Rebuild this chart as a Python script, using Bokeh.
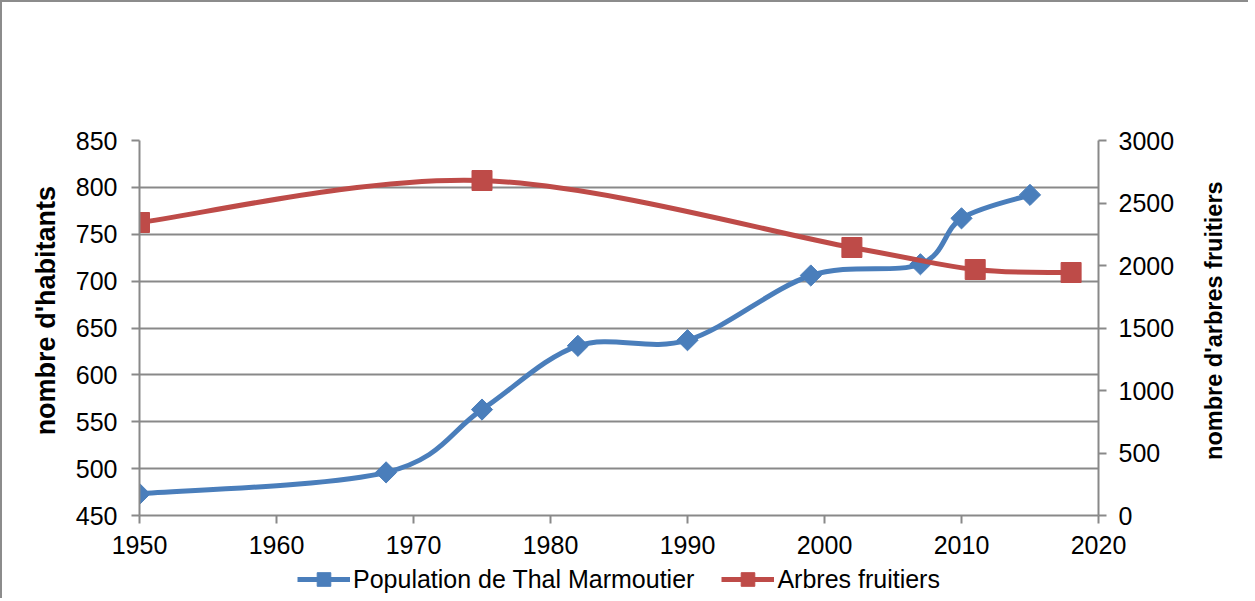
import math
from bokeh.plotting import figure
from bokeh.models import (Range1d, LinearAxis, Legend, LegendItem, FixedTicker,
                          ColumnDataSource, Label)
from bokeh.layouts import column, row
from bokeh.embed import file_html
from bokeh.resources import INLINE

# ---- data ----
pop_years = [1950, 1968, 1975, 1982, 1990, 1999, 2007, 2010, 2015]
pop_values = [473, 496, 563, 631, 637, 706, 718, 767, 792]
tree_years = [1950, 1975, 2002, 2011, 2018]
tree_values = [2344, 2680, 2144, 1968, 1944]
x_ticks = [1950, 1960, 1970, 1980, 1990, 2000, 2010, 2020]
left_ticks = [450, 500, 550, 600, 650, 700, 750, 800, 850]
right_ticks = [0, 500, 1000, 1500, 2000, 2500, 3000]
pop_label = "Population de Thal Marmoutier"
tree_label = "Arbres fruitiers"
left_title = "nombre d'habitants"
right_title = "nombre d'arbres fruitiers"

BLUE = "#4A7EBB"
RED = "#BE4B48"
GRID = "#898989"
BORDER = "2px solid #8c8c8c"
FONT = "Liberation Sans"


def smooth_segments(xs, ys):
    """Catmull-Rom style Bezier control points (Excel-like smoothing)."""
    n = len(xs)
    d = dict(x0=[], y0=[], x1=[], y1=[], cx0=[], cy0=[], cx1=[], cy1=[])
    for i in range(n - 1):
        im1 = max(i - 1, 0)
        ip2 = min(i + 2, n - 1)
        d["x0"].append(xs[i]); d["y0"].append(ys[i])
        d["x1"].append(xs[i + 1]); d["y1"].append(ys[i + 1])
        d["cx0"].append(xs[i] + (xs[i + 1] - xs[im1]) / 6.0)
        d["cy0"].append(ys[i] + (ys[i + 1] - ys[im1]) / 6.0)
        d["cx1"].append(xs[i + 1] - (xs[ip2] - xs[i]) / 6.0)
        d["cy1"].append(ys[i + 1] - (ys[ip2] - ys[i]) / 6.0)
    return ColumnDataSource(d)


pop_src = smooth_segments(pop_years, pop_values)
tree_src = smooth_segments(tree_years, tree_values)


def add_series(fig):
    a = fig.bezier(x0="x0", y0="y0", x1="x1", y1="y1", cx0="cx0", cy0="cy0",
                   cx1="cx1", cy1="cy1", source=pop_src, line_color=BLUE, line_width=5)
    b = fig.scatter(pop_years, pop_values, marker="square", angle=math.pi / 4,
                    size=15, fill_color=BLUE, line_color=BLUE)
    c = fig.bezier(x0="x0", y0="y0", x1="x1", y1="y1", cx0="cx0", cy0="cy0",
                   cx1="cx1", cy1="cy1", source=tree_src, line_color=RED, line_width=5,
                   y_range_name="right")
    d = fig.scatter(tree_years, tree_values, marker="square", size=20,
                    fill_color=RED, line_color=RED, y_range_name="right")
    return a, b, c, d


def blank_fig(w, h, styles):
    f = figure(width=w, height=h, output_backend="svg", toolbar_location=None, title=None,
               x_range=Range1d(0, w), y_range=Range1d(0, h),
               x_axis_type=None, y_axis_type=None, min_border=0)
    f.outline_line_color = None
    f.grid.visible = False
    f.styles = styles
    return f


H = 562
LEFT_W = 60       # + 2px border
MAIN_W = 1128
RIGHT_W = 60

# ---------------- left axis title ----------------
lt = blank_fig(LEFT_W, H, {"border-top": BORDER, "border-left": BORDER})
lt.add_layout(Label(x=43, y=H - 255, text=left_title, angle=math.pi / 2,
                    text_align="center", text_baseline="middle", text_font=FONT,
                    text_font_style="bold", text_font_size="27px", text_color="black"))

# ---------------- main chart ----------------
p = figure(width=MAIN_W, height=H, output_backend="svg", toolbar_location=None, title=None,
           x_range=Range1d(1950, 2020), y_range=Range1d(450, 850),
           min_border_left=141 - 62, min_border_right=MAIN_W - (1100 - 62),
           min_border_top=138, min_border_bottom=H - 513)
p.extra_y_ranges = {"right": Range1d(0, 3000)}
p.outline_line_color = None
p.background_fill_color = "white"
p.border_fill_color = "white"
p.styles = {"border-top": BORDER}

p.xgrid.visible = False
p.ygrid.grid_line_color = GRID
p.ygrid.grid_line_width = 2
p.ygrid.ticker = FixedTicker(ticks=left_ticks)

xa = p.xaxis[0]
xa.ticker = FixedTicker(ticks=x_ticks)
ya = p.yaxis[0]
ya.ticker = FixedTicker(ticks=left_ticks)

ra = LinearAxis(y_range_name="right", ticker=FixedTicker(ticks=right_ticks))
p.add_layout(ra, "right")

for ax in (xa, ya, ra):
    ax.axis_line_color = GRID
    ax.axis_line_width = 2
    ax.major_tick_line_color = GRID
    ax.major_tick_line_width = 2
    ax.major_tick_out = 8
    ax.major_tick_in = 0
    ax.minor_tick_line_color = None
    ax.major_label_text_font = FONT
    ax.major_label_text_font_size = "25px"
    ax.major_label_text_color = "black"

xa.major_label_standoff = 12
ya.major_label_standoff = 14
ra.major_label_standoff = 12

add_series(p)

# ---------------- right axis title ----------------
rt = blank_fig(RIGHT_W, H, {"border-top": BORDER})
rt.add_layout(Label(x=1215 - 1190, y=H - 270, text=right_title, angle=math.pi / 2,
                    text_align="center", text_baseline="middle", text_font=FONT,
                    text_font_style="bold", text_font_size="23.5px", text_color="black"))

# ---------------- legend strip ----------------
LH = 36
lg = figure(width=1248, height=LH, output_backend="svg", toolbar_location=None, title=None,
            x_range=Range1d(0, 1), y_range=Range1d(0, 1),
            x_axis_type=None, y_axis_type=None, min_border=0)
lg.extra_y_ranges = {"right": Range1d(0, 1)}
lg.outline_line_color = None
lg.grid.visible = False
lg.styles = {"border-left": BORDER}
la, lb, lc, ld = add_series(lg)

legend = Legend(items=[
    LegendItem(label=pop_label, renderers=[la, lb]),
    LegendItem(label=tree_label, renderers=[lc, ld]),
], orientation="horizontal", location=(295, 2))
legend.border_line_color = None
legend.background_fill_alpha = 0
legend.padding = 0
legend.margin = 0
legend.spacing = 27
legend.glyph_width = 53
legend.glyph_height = 34
legend.label_standoff = 3
legend.label_text_font = FONT
legend.label_text_font_size = "25px"
legend.label_text_color = "black"
lg.add_layout(legend, "center")

layout = column(row(lt, p, rt), lg)
open("out.html", "w").write(file_html(layout, INLINE))
